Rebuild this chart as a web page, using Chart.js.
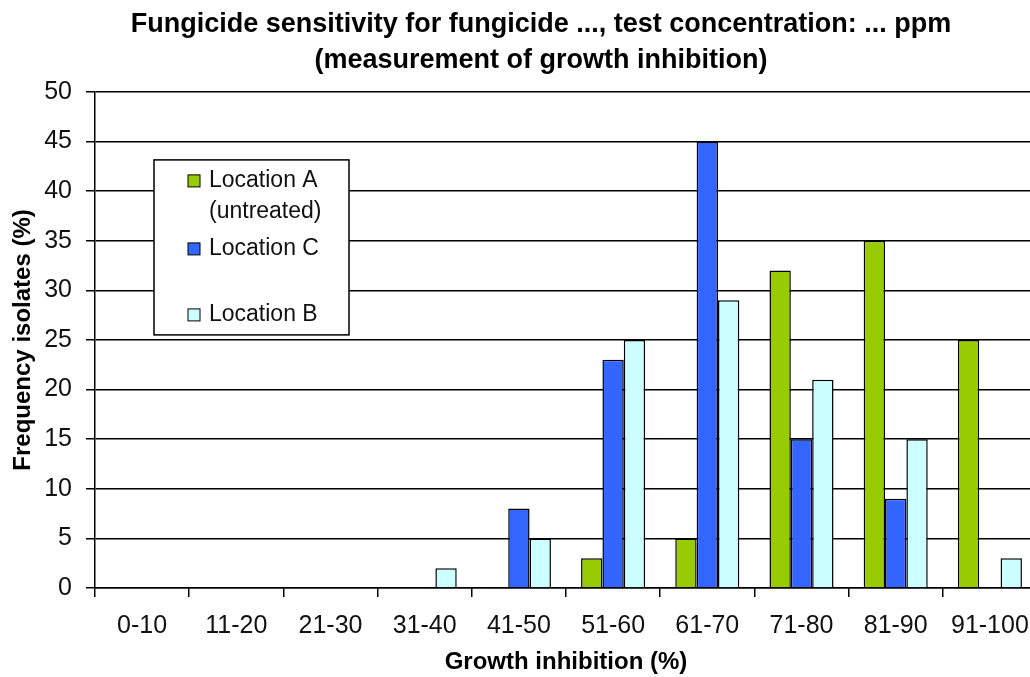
<!DOCTYPE html>
<html>
<head>
<meta charset="utf-8">
<script src="https://cdn.jsdelivr.net/npm/chart.js@4"></script>
<style>
  html, body { margin: 0; padding: 0; background: #fff; overflow: hidden; }
  #wrap { width: 1030px; height: 677px; overflow: hidden; }
</style>
</head>
<body>
<div id="wrap"><canvas id="chart" width="1082" height="677"></canvas></div>
<script>
/* =========================
   DATOS
========================= */
const categories = ['0-10', '11-20', '21-30', '31-40', '41-50', '51-60', '61-70', '71-80', '81-90', '91-100'];
const locationA = [0, 0, 0, 0, 0, 3, 5, 32, 35, 25];
const locationC = [0, 0, 0, 0, 8, 23, 45, 15, 9, 0];
const locationB = [0, 0, 0, 2, 5, 25, 29, 21, 15, 3];
const yTicks = [0, 5, 10, 15, 20, 25, 30, 35, 40, 45, 50];

const FONT = "'Liberation Sans', Arial, sans-serif";

/* =========================
   LEYENDA DENTRO DEL ÁREA
========================= */
const legendLines = [
  { ds: 0, lines: ['Location A', '(untreated)'], y: 89 },
  { ds: 1, lines: ['Location C'], y: 157 },
  { ds: 2, lines: ['Location B'], y: 223 }
];

const boxLegend = {
  id: 'boxLegend',
  afterDraw(chart) {
    const ctx = chart.ctx;
    const area = chart.chartArea;
    const x0 = area.left + 59;
    const y0 = area.top + 68;
    ctx.save();
    ctx.fillStyle = '#fff';
    ctx.fillRect(x0, y0, 195, 175);
    ctx.strokeStyle = '#000';
    ctx.lineWidth = 1.5;
    ctx.strokeRect(x0, y0, 195, 175);
    ctx.font = '23px ' + FONT;
    ctx.textBaseline = 'middle';
    ctx.textAlign = 'left';
    legendLines.forEach(item => {
      const ds = chart.data.datasets[item.ds];
      const y = area.top + item.y;
      ctx.fillStyle = ds.backgroundColor;
      ctx.fillRect(x0 + 34, y - 6, 12, 12);
      ctx.strokeStyle = '#000';
      ctx.lineWidth = 1;
      ctx.strokeRect(x0 + 34, y - 6, 12, 12);
      ctx.fillStyle = '#111';
      item.lines.forEach((t, i) => {
        ctx.fillText(t, x0 + 55, y + i * 31);
      });
    });
    ctx.restore();
  }
};

/* =========================
   GRÁFICA
========================= */
const ctx = document.getElementById('chart').getContext('2d');
const chart = new Chart(ctx, {
  type: 'bar',
  data: {
    labels: categories,
    datasets: [
      {
        label: 'Location A (untreated)',
        data: locationA,
        backgroundColor: '#99CC00',
        borderColor: '#000',
        borderWidth: 1.5
      },
      {
        label: 'Location C',
        data: locationC,
        backgroundColor: '#3366FF',
        borderColor: '#000',
        borderWidth: 1.5
      },
      {
        label: 'Location B',
        data: locationB,
        backgroundColor: '#CCFFFF',
        borderColor: '#000',
        borderWidth: 1.5
      }
    ]
  },
  options: {
    responsive: false,
    animation: false,
    devicePixelRatio: 1,
    layout: { padding: 0 },
    datasets: {
      bar: { categoryPercentage: 0.68, barPercentage: 1.0 }
    },
    plugins: {
      legend: { display: false },
      tooltip: { enabled: false },
      title: {
        display: true,
        text: ['Fungicide sensitivity for fungicide ..., test concentration: ... ppm',
               '(measurement of growth inhibition)'],
        color: '#000',
        font: { family: FONT, size: 27, weight: 'bold', lineHeight: 1.35 },
        padding: { top: 6, bottom: 13 }
      }
    },
    scales: {
      x: {
        grid: {
          display: true,
          drawOnChartArea: false,
          drawTicks: true,
          tickLength: 9,
          color: '#000',
          lineWidth: 1.5,
          offset: true
        },
        border: { color: '#000', width: 1.5 },
        ticks: {
          color: '#111',
          font: { family: FONT, size: 25 },
          padding: 14,
          maxRotation: 0,
          autoSkip: false
        },
        title: {
          display: true,
          text: 'Growth inhibition (%)',
          color: '#000',
          font: { family: FONT, size: 24, weight: 'bold' },
          padding: { top: 0, bottom: 0 }
        },
        afterFit(scale) { scale.height = 89; }
      },
      y: {
        min: 0,
        max: 50,
        afterBuildTicks(scale) { scale.ticks = yTicks.map(v => ({ value: v })); },
        grid: {
          color: '#000',
          lineWidth: 1.5,
          tickLength: 9
        },
        border: { color: '#000', width: 1.5 },
        ticks: {
          color: '#111',
          font: { family: FONT, size: 25 },
          padding: 14
        },
        title: {
          display: true,
          text: 'Frequency isolates (%)',
          color: '#000',
          font: { family: FONT, size: 24, weight: 'bold' },
          padding: { top: 9, bottom: 0 }
        },
        afterFit(scale) { scale.width = 95; }
      },
      // eje vacío a la derecha, solo reserva espacio (el gráfico original sigue más allá del borde)
      yRight: {
        position: 'right',
        display: true,
        grid: { display: false },
        border: { display: false },
        ticks: { display: false },
        afterFit(scale) { scale.width = 45; }
      }
    }
  },
  plugins: [boxLegend]
});
</script>
</body>
</html>
